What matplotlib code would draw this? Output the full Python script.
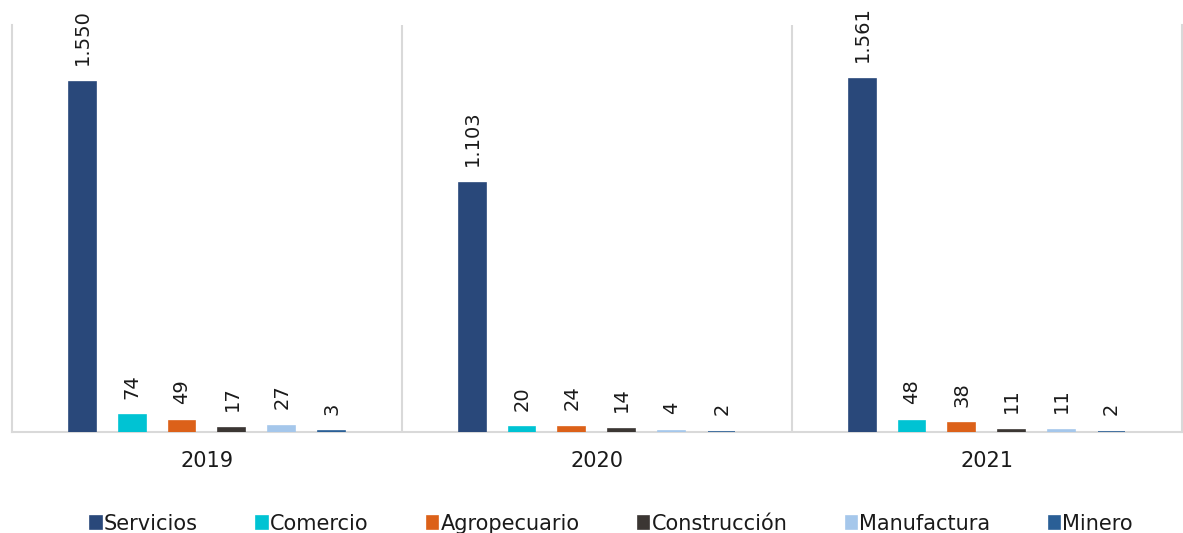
import numpy as np
import matplotlib.pyplot as plt

years = ["2019", "2020", "2021"]
sectors = ["Servicios", "Comercio", "Agropecuario", "Construcción", "Manufactura", "Minero"]
servicios = [1550, 1103, 1561]
comercio = [74, 20, 48]
agropecuario = [49, 24, 38]
construccion = [17, 14, 11]
manufactura = [27, 4, 11]
minero = [3, 2, 2]

series = [servicios, comercio, agropecuario, construccion, manufactura, minero]
colors = ["#29487a", "#00c3d3", "#dc6119", "#3b3633", "#a5c7eb", "#2a5f96"]

plt.rcParams['font.family'] = ['DejaVu Sans']

fig = plt.figure(figsize=(11.83, 5.33), dpi=100)
ax = fig.add_axes([0.0101, 0.1895, 0.9889, 0.7635])

x = np.arange(len(years))
step = 0.128
width = 0.069

def fmt(v):
    return f"{v:,}".replace(",", ".")

for i, (vals, c, name) in enumerate(zip(series, colors, sectors)):
    pos = x + (i - 2.5) * step
    bars = ax.bar(pos, vals, width=width, color=c, edgecolor=c, linewidth=1.2,
                  label=name, zorder=3)
    for b, v in zip(bars, vals):
        ax.annotate(fmt(v), (b.get_x() + b.get_width() / 2, v),
                    xytext=(0, 12), textcoords="offset points",
                    rotation=90, ha="center", va="bottom",
                    fontsize=14, color="#1a1a1a")

ax.set_xlim(-0.5, 2.5)
ax.set_ylim(0, 1800)
ax.set_yticks([])
ax.set_xticks(x)
ax.set_xticklabels(years, fontsize=15, color="#1a1a1a")
ax.tick_params(axis="x", length=0, pad=14)

ax.spines["top"].set_visible(False)
for s in ["left", "right", "bottom"]:
    ax.spines[s].set_color("#d9d9d9")
    ax.spines[s].set_linewidth(1.5)
for sep in [0.5, 1.5]:
    ax.axvline(sep, color="#d9d9d9", lw=1.5, zorder=1)

leg = fig.legend(loc="lower center", ncol=6, frameon=False, fontsize=15,
                 bbox_to_anchor=(0.517, -0.037), handlelength=0.55, handleheight=0.55,
                 handletextpad=0.1, columnspacing=2.8)
for t in leg.get_texts():
    t.set_color("#1a1a1a")

fig.savefig("out.png", dpi=100)
